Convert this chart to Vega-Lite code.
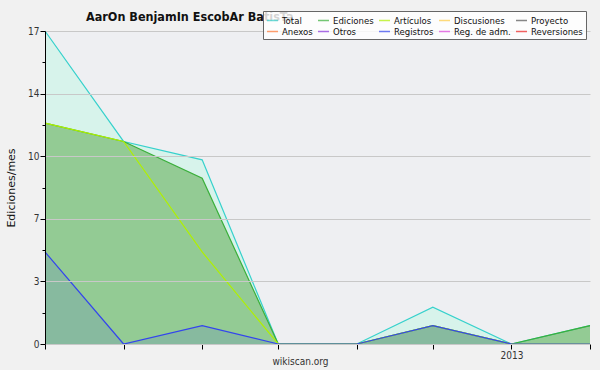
{
  "$schema": "https://vega.github.io/schema/vega-lite/v6.json",
  "autosize": "none",
  "width": 545,
  "height": 313,
  "padding": {"left": 45, "top": 31, "right": 10, "bottom": 26},
  "background": "#f1f1f1",
  "title": {
    "text": "AarOn BenjamIn EscobAr BatisTa",
    "anchor": "start",
    "frame": "group",
    "dx": 41,
    "font": "DejaVu Sans Condensed, DejaVu Sans",
    "fontSize": 12.5,
    "fontWeight": "bold",
    "color": "#111111",
    "baseline": "bottom",
    "offset": -26,
    "zindex": 0
  },
  "config": {
    "view": {"stroke": null, "fill": "#eeeff2"},
    "font": "DejaVu Sans Condensed, DejaVu Sans"
  },
  "data": {
    "values": [
      {"date": "2012-07-01", "series": "Total", "value": 17},
      {"date": "2012-08-01", "series": "Total", "value": 11},
      {"date": "2012-09-01", "series": "Total", "value": 10},
      {"date": "2012-10-01", "series": "Total", "value": 0},
      {"date": "2012-11-01", "series": "Total", "value": 0},
      {"date": "2012-12-01", "series": "Total", "value": 2},
      {"date": "2013-01-01", "series": "Total", "value": 0},
      {"date": "2013-02-01", "series": "Total", "value": 1},
      {"date": "2012-07-01", "series": "Ediciones", "value": 12},
      {"date": "2012-08-01", "series": "Ediciones", "value": 11},
      {"date": "2012-09-01", "series": "Ediciones", "value": 9},
      {"date": "2012-10-01", "series": "Ediciones", "value": 0},
      {"date": "2012-11-01", "series": "Ediciones", "value": 0},
      {"date": "2012-12-01", "series": "Ediciones", "value": 1},
      {"date": "2013-01-01", "series": "Ediciones", "value": 0},
      {"date": "2013-02-01", "series": "Ediciones", "value": 1},
      {"date": "2012-07-01", "series": "Artículos", "value": 12},
      {"date": "2012-08-01", "series": "Artículos", "value": 11},
      {"date": "2012-09-01", "series": "Artículos", "value": 5},
      {"date": "2012-10-01", "series": "Artículos", "value": 0},
      {"date": "2012-11-01", "series": "Artículos", "value": 0},
      {"date": "2012-12-01", "series": "Artículos", "value": 1},
      {"date": "2013-01-01", "series": "Artículos", "value": 0},
      {"date": "2013-02-01", "series": "Artículos", "value": 0},
      {"date": "2012-07-01", "series": "Registros", "value": 5},
      {"date": "2012-08-01", "series": "Registros", "value": 0},
      {"date": "2012-09-01", "series": "Registros", "value": 1},
      {"date": "2012-10-01", "series": "Registros", "value": 0},
      {"date": "2012-11-01", "series": "Registros", "value": 0},
      {"date": "2012-12-01", "series": "Registros", "value": 1},
      {"date": "2013-01-01", "series": "Registros", "value": 0},
      {"date": "2013-02-01", "series": "Registros", "value": 0}
    ]
  },
  "encoding": {
    "x": {
      "field": "date",
      "type": "temporal",
      "scale": {"type": "utc", "domain": [{"year": 2012, "month": 7, "date": 1, "utc": true}, {"year": 2013, "month": 2, "date": 1, "utc": true}]},
      "axis": {
        "values": [
          {"year": 2012, "month": 7, "date": 1, "utc": true},
          {"year": 2012, "month": 8, "date": 1, "utc": true},
          {"year": 2012, "month": 9, "date": 1, "utc": true},
          {"year": 2012, "month": 10, "date": 1, "utc": true},
          {"year": 2012, "month": 11, "date": 1, "utc": true},
          {"year": 2012, "month": 12, "date": 1, "utc": true},
          {"year": 2013, "month": 1, "date": 1, "utc": true},
          {"year": 2013, "month": 2, "date": 1, "utc": true}
        ],
        "labelExpr": "utcmonth(datum.value) == 0 ? utcFormat(datum.value, '%Y') : ''",
        "grid": false,
        "domainColor": "#000000",
        "tickColor": "#000000",
        "tickSize": 5,
        "labelFontSize": 10,
        "labelColor": "#333333",
        "labelPadding": 1,
        "labelFlush": false,
        "title": "wikiscan.org",
        "titleFontSize": 10,
        "titleFontWeight": "normal",
        "titleColor": "#333333",
        "titleX": 255,
        "titleY": 17,
        "titleBaseline": "middle"
      }
    },
    "y": {
      "field": "value",
      "type": "quantitative",
      "stack": null,
      "scale": {"domain": [0, 17], "nice": false},
      "axis": {
        "values": [0, 1.7, 3.4, 5.1, 6.8, 8.5, 10.2, 11.9, 13.6, 15.3, 17],
        "labelExpr": "round(datum.value * 10) % 34 == 0 ? format(round(datum.value), 'd') : ''",
        "grid": true,
        "gridColor": "#c8c8c8",
        "gridOpacity": {"condition": {"test": "round(datum.value * 10) % 34 == 0", "value": 1}, "value": 0},
        "tickSize": {"condition": {"test": "round(datum.value * 10) % 34 == 0", "value": 5}, "value": 3},
        "domainColor": "#000000",
        "tickColor": "#000000",
        "labelFontSize": 10,
        "labelColor": "#333333",
        "labelPadding": 1,
        "zindex": 1,
        "title": "Ediciones/mes",
        "titleFont": "DejaVu Sans",
        "titleFontSize": 11,
        "titleFontWeight": "normal",
        "titleColor": "#111111",
        "titlePadding": 11
      }
    }
  },
  "layer": [
    {
      "transform": [{"filter": "datum.series == 'Total'"}],
      "mark": {"type": "area", "fill": "#c8f5e6", "fillOpacity": 0.6}
    },
    {
      "transform": [{"filter": "datum.series == 'Total'"}],
      "mark": {"type": "line", "strokeWidth": 1.2},
      "encoding": {"color": {"field": "series", "type": "nominal"}}
    },
    {
      "transform": [{"filter": "datum.series == 'Ediciones'"}],
      "mark": {"type": "area", "fill": "#4fa43e", "fillOpacity": 0.5}
    },
    {
      "transform": [{"filter": "datum.series == 'Ediciones'"}],
      "mark": {"type": "line", "strokeWidth": 1.2},
      "encoding": {"color": {"field": "series", "type": "nominal"}}
    },
    {
      "transform": [{"filter": "datum.series == 'Artículos'"}],
      "mark": {"type": "line", "strokeWidth": 1.2},
      "encoding": {"color": {"field": "series", "type": "nominal"}}
    },
    {
      "transform": [{"filter": "datum.series == 'Registros'"}],
      "mark": {"type": "area", "fill": "#3344ee", "fillOpacity": 0.12}
    },
    {
      "transform": [{"filter": "datum.series == 'Registros'"}],
      "mark": {"type": "line", "strokeWidth": 1.2},
      "encoding": {
        "color": {
          "field": "series",
          "type": "nominal",
          "scale": {
            "domain": ["Total", "Ediciones", "Artículos", "Discusiones", "Proyecto", "Anexos", "Otros", "Registros", "Reg. de adm.", "Reversiones"],
            "range": ["#36d1cc", "#3aaf3a", "#b0f000", "#ffcc44", "#555555", "#ff7733", "#8833dd", "#3344ee", "#dd44dd", "#ee2222"]
          },
          "legend": {
            "title": null,
            "orient": "none",
            "legendX": 218,
            "legendY": -20,
            "direction": "horizontal",
            "columns": 5,
            "columnPadding": 2,
            "rowPadding": -2,
            "padding": 3,
            "zindex": 2,
            "fillColor": "rgba(255,255,255,0.82)",
            "strokeColor": "#666666",
            "symbolType": "stroke",
            "symbolSize": 121,
            "symbolStrokeWidth": 1.5,
            "symbolOpacity": 0.7,
            "labelFontSize": 9.5,
            "labelColor": "#111111",
            "labelOffset": 3,
            "labelLimit": 200,
            "encode": {"symbols": {"update": {"stroke": {"scale": "color", "field": "value"}}}}
          }
        }
      }
    },
    {
      "data": {"values": [{"note": "CC BY-SA 3.0"}]},
      "mark": {"type": "text", "align": "right", "baseline": "middle", "dy": 18, "dx": -2, "fontSize": 7.5, "color": "#333333"},
      "encoding": {
        "x": {"datum": {"year": 2013, "month": 2, "date": 1, "utc": true}, "type": "temporal"},
        "y": {"datum": 0, "type": "quantitative"},
        "text": {"field": "note", "type": "nominal"}
      }
    }
  ]
}
